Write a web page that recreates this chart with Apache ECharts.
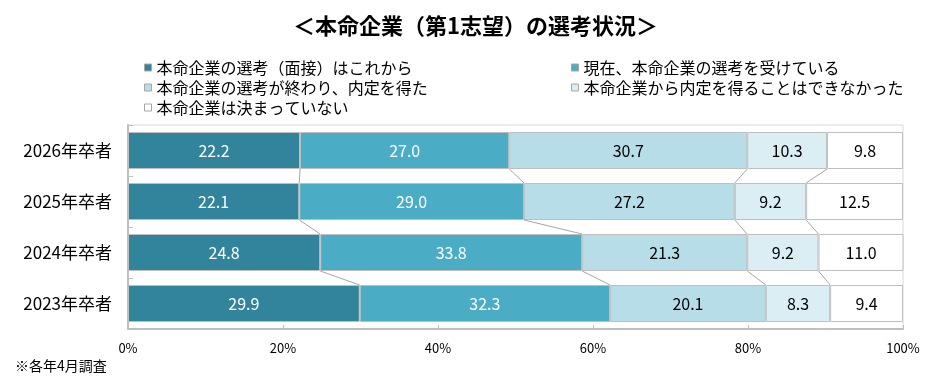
<!DOCTYPE html>
<html>
<head>
<meta charset="utf-8">
<script src="https://cdn.jsdelivr.net/npm/echarts@6/dist/echarts.min.js"></script>
<style>html,body{margin:0;padding:0;background:#fff;}#c{width:933px;height:381px;}</style>
</head>
<body>
<div id="c"></div>
<script>
const categories = ['2026年卒者', '2025年卒者', '2024年卒者', '2023年卒者'];
const seriesNames = [
  '本命企業の選考（面接）はこれから',
  '現在、本命企業の選考を受けている',
  '本命企業の選考が終わり、内定を得た',
  '本命企業から内定を得ることはできなかった',
  '本命企業は決まっていない'
];
const notYet = [22.2, 22.1, 24.8, 29.9];
const inProgress = [27.0, 29.0, 33.8, 32.3];
const gotOffer = [30.7, 27.2, 21.3, 20.1];
const noOffer = [10.3, 9.2, 9.2, 8.3];
const undecided = [9.8, 12.5, 11.0, 9.4];
const xTicks = [0, 20, 40, 60, 80, 100];

const allValues = [notYet, inProgress, gotOffer, noOffer, undecided];
const colors = ['#31849B', '#4BACC6', '#B7DEE8', '#DAEEF3', '#FFFFFF'];
const labelColors = ['#fff', '#fff', '#000', '#000', '#000'];
const FONT = 'Noto Sans CJK JP';
const BAR_W = 37;

const chart = echarts.init(document.getElementById('c'), null, {renderer: 'canvas'});

const barSeries = allValues.map((vals, k) => ({
  name: seriesNames[k],
  type: 'bar',
  stack: 'total',
  barWidth: BAR_W,
  data: vals,
  itemStyle: {color: colors[k], borderColor: '#BFBFBF', borderWidth: 1},
  label: {
    show: true, position: 'inside', color: labelColors[k],
    fontFamily: FONT, fontSize: 16,
    formatter: p => p.value.toFixed(1)
  },
  emphasis: {disabled: true}
}));

function cum(i, j) {
  let s = 0;
  for (let k = 0; k <= j; k++) s += allValues[k][i];
  return s;
}

const connector = {
  type: 'custom',
  silent: true,
  z: 5,
  encode: {x: 0, y: 1},
  data: categories.slice(0, -1).map((c, i) => [0, i]),
  renderItem: function (params, api) {
    const i = params.dataIndex;
    const half = BAR_W / 2;
    const children = [];
    for (let j = 0; j < 4; j++) {
      const p1 = api.coord([cum(i, j), i]);
      const p2 = api.coord([cum(i + 1, j), i + 1]);
      children.push({
        type: 'line',
        shape: {x1: p1[0], y1: p1[1] + half, x2: p2[0], y2: p2[1] - half},
        style: {stroke: '#A6A6A6', lineWidth: 1}
      });
    }
    return {type: 'group', children: children};
  }
};

const legendText = {fontFamily: FONT, fontSize: 16, color: '#000', lineHeight: 17};

chart.setOption({
  animation: false,
  backgroundColor: '#fff',
  title: {
    text: '＜本命企業（第1志望）の選考状況＞',
    left: 288, top: 10,
    textStyle: {fontFamily: FONT, fontSize: 22, fontWeight: 'bold', color: '#000'}
  },
  legend: [
    {
      orient: 'vertical', left: 139, top: 54, itemGap: 3,
      itemWidth: 7, itemHeight: 7, icon: 'rect',
      data: [seriesNames[0], seriesNames[2], seriesNames[4]],
      textStyle: legendText, selectedMode: false,
      itemStyle: {borderColor: '#A6A6A6', borderWidth: 1}
    },
    {
      orient: 'vertical', left: 566, top: 54, itemGap: 3,
      itemWidth: 7, itemHeight: 7, icon: 'rect',
      data: [seriesNames[1], seriesNames[3]],
      textStyle: legendText, selectedMode: false,
      itemStyle: {borderColor: '#A6A6A6', borderWidth: 1}
    }
  ],
  grid: {left: 128, right: 30, top: 125, bottom: 52, show: true, borderColor: '#D9D9D9', borderWidth: 1},
  xAxis: {
    type: 'value', min: xTicks[0], max: xTicks[xTicks.length - 1], interval: 20,
    axisLine: {show: true, lineStyle: {color: '#BFBFBF', width: 2}},
    axisTick: {show: true, inside: true, length: 4, lineStyle: {color: '#BFBFBF'}},
    splitLine: {show: false},
    axisLabel: {formatter: '{value}%', fontFamily: FONT, fontSize: 13, color: '#000', margin: 13}
  },
  yAxis: {
    type: 'category', inverse: true, data: categories,
    axisLine: {show: true, lineStyle: {color: '#BFBFBF', width: 2}},
    axisTick: {show: true, inside: true, length: 5, lineStyle: {color: '#BFBFBF'}},
    axisLabel: {fontFamily: FONT, fontSize: 17, color: '#000', margin: 16}
  },
  graphic: [{
    type: 'text', left: 15, top: 359,
    style: {text: '※各年4月調査', font: '14px "Noto Sans CJK JP"', fill: '#000'}
  }],
  series: barSeries.concat([connector])
});
</script>
</body>
</html>
